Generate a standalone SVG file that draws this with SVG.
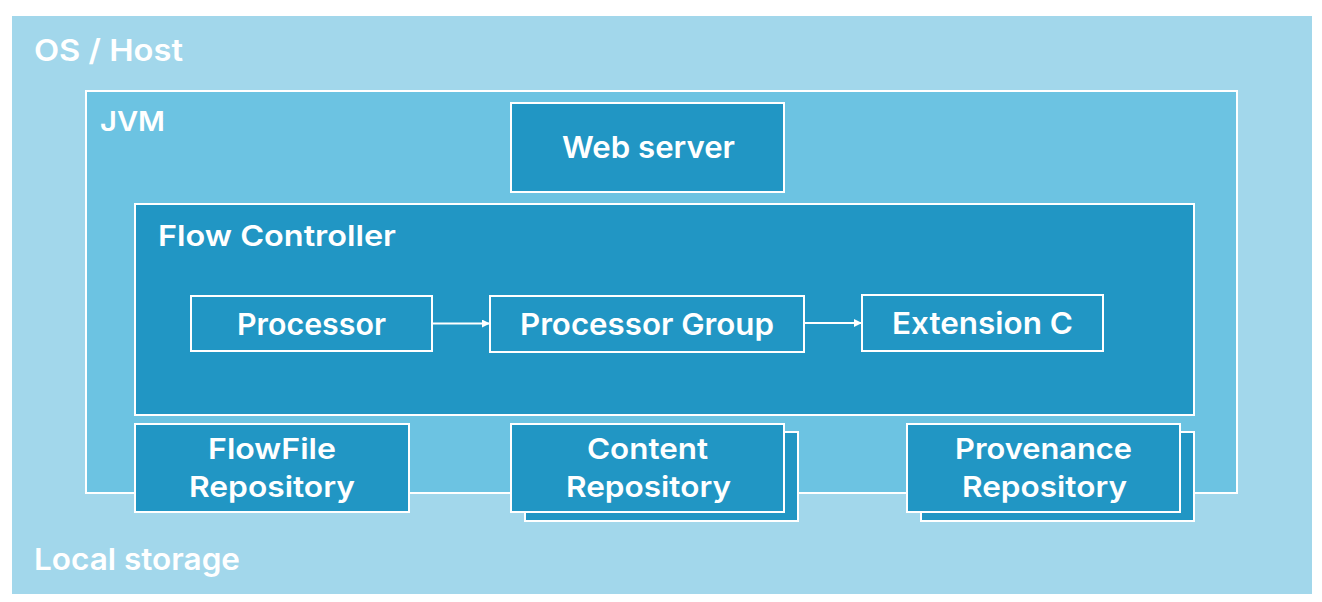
<svg xmlns="http://www.w3.org/2000/svg" width="1322" height="602" viewBox="0 0 1322 602">
<defs>
<style>
.lbl{font-family:Inter,"Open Sans","Liberation Sans",sans-serif;font-weight:600;fill:#ffffff;}
.box{fill:#2196C4;stroke:#ffffff;stroke-width:2;}
.conn{stroke:#ffffff;stroke-width:2;fill:none;}
</style>
<marker id="ah" viewBox="0 0 10 10" refX="10" refY="5" markerWidth="4" markerHeight="4" orient="auto" markerUnits="strokeWidth">
<path d="M0,0 L10,5 L0,10 z" fill="#ffffff"/>
</marker>
</defs>
<rect width="1322" height="602" fill="#ffffff"/>
<g id="os-host">
<rect x="12" y="16" width="1300" height="578" fill="#A2D7EB"/>
<text class="lbl" x="34" y="61" font-size="30" textLength="149" lengthAdjust="spacingAndGlyphs">OS / Host</text>
<text class="lbl" x="34" y="570" font-size="30" textLength="206" lengthAdjust="spacingAndGlyphs">Local storage</text>
</g>
<g id="jvm">
<rect x="86" y="91" width="1151" height="402" fill="#6CC3E2" stroke="#ffffff" stroke-width="2"/>
<text class="lbl" x="100" y="131" font-size="27" textLength="65" lengthAdjust="spacingAndGlyphs">JVM</text>
</g>
<g id="web-server">
<rect class="box" x="511" y="103" width="273" height="89"/>
<text class="lbl" x="562" y="158" font-size="30" textLength="173" lengthAdjust="spacingAndGlyphs">Web server</text>
</g>
<g id="flow-controller">
<rect class="box" x="135" y="204" width="1059" height="211"/>
<text class="lbl" x="158" y="246" font-size="29" textLength="238" lengthAdjust="spacingAndGlyphs">Flow Controller</text>
</g>
<g id="processor">
<rect class="box" x="191" y="296" width="241" height="55"/>
<text class="lbl" x="237" y="335" font-size="30" textLength="149" lengthAdjust="spacingAndGlyphs">Processor</text>
</g>
<g id="processor-group">
<rect class="box" x="490" y="296" width="314" height="56"/>
<text class="lbl" x="520" y="335" font-size="30" textLength="254" lengthAdjust="spacingAndGlyphs">Processor Group</text>
</g>
<g id="extension-c">
<rect class="box" x="862" y="295" width="241" height="56"/>
<text class="lbl" x="892" y="334" font-size="30" textLength="181" lengthAdjust="spacingAndGlyphs">Extension C</text>
</g>
<g id="flowfile-repository">
<rect class="box" x="135" y="424" width="274" height="88"/>
<text class="lbl" font-size="29"><tspan x="208" y="459" textLength="128" lengthAdjust="spacingAndGlyphs">FlowFile</tspan><tspan x="189" y="497" textLength="166" lengthAdjust="spacingAndGlyphs">Repository</tspan></text>
</g>
<g id="content-repository">
<rect class="box" x="525" y="432" width="273" height="89"/>
<rect class="box" x="511" y="424" width="273" height="88"/>
<text class="lbl" font-size="29"><tspan x="587" y="459" textLength="121" lengthAdjust="spacingAndGlyphs">Content</tspan><tspan x="566" y="497" textLength="165" lengthAdjust="spacingAndGlyphs">Repository</tspan></text>
</g>
<g id="provenance-repository">
<rect class="box" x="921" y="432" width="273" height="89"/>
<rect class="box" x="907" y="424" width="273" height="88"/>
<text class="lbl" font-size="29"><tspan x="955" y="459" textLength="177" lengthAdjust="spacingAndGlyphs">Provenance</tspan><tspan x="962" y="497" textLength="165" lengthAdjust="spacingAndGlyphs">Repository</tspan></text>
</g>
<g id="connectors">
<line class="conn" x1="432" y1="323.5" x2="490" y2="323.5" marker-end="url(#ah)"/>
<line class="conn" x1="804" y1="323" x2="862" y2="323" marker-end="url(#ah)"/>
</g>
</svg>
